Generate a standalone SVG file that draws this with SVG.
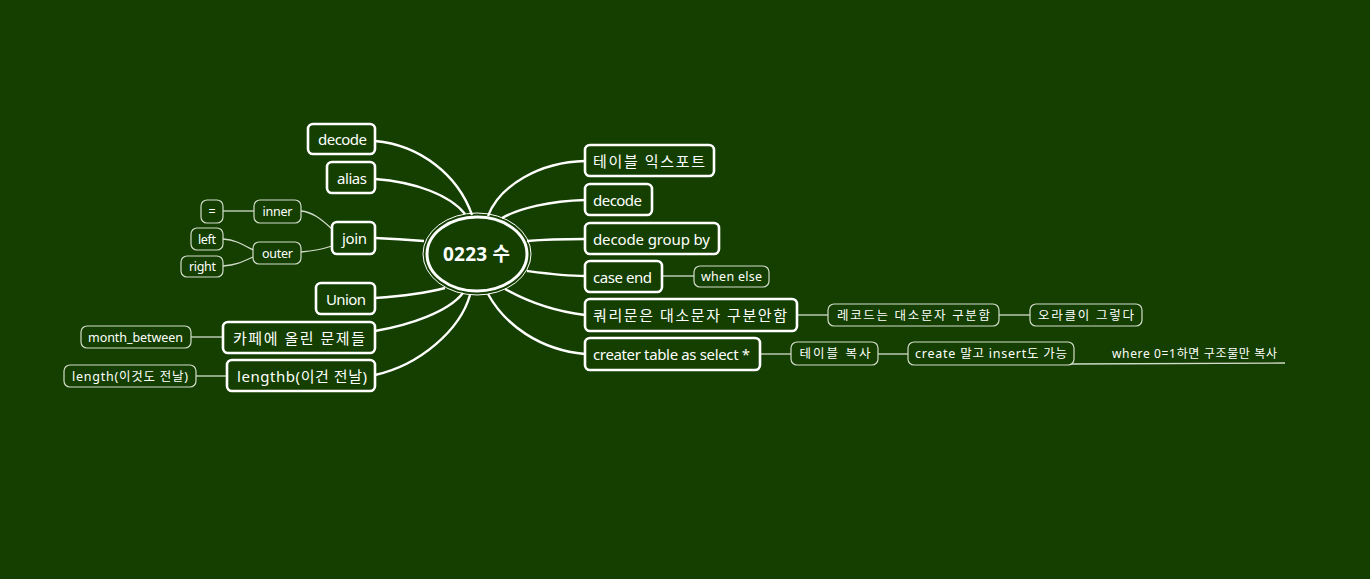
<svg xmlns="http://www.w3.org/2000/svg" width="1370" height="579" viewBox="0 0 1370 579">
<style>
.bg{fill:#143f00}
.main rect{fill:#143f00;stroke:#ffffff;stroke-width:2.6}
.sub rect{fill:#143f00;stroke:#d2dccb;stroke-width:1.2}
text{font-family:"Noto Sans","Noto Sans CJK KR",sans-serif;fill:#ffffff;text-anchor:middle;dominant-baseline:central}
.main text{font-size:15px}
.sub text{font-size:12.5px}
.mc{fill:none;stroke:#ffffff;stroke-width:2.4}
.sc{fill:none;stroke:#d2dccb;stroke-width:1.3}
</style>
<rect class="bg" x="0" y="0" width="1370" height="579"/>
<g id="connectors">
<path class="mc" d="M375 141 C420 145,458 175,472 215"/>
<path class="mc" d="M375 179 C415 182,450 195,465 214"/>
<path class="mc" d="M375 238 C395 239,410 240,424 241"/>
<path class="mc" d="M375 298 C405 296,430 292,445 288"/>
<path class="mc" d="M375 331 C410 325,448 312,463 293"/>
<path class="mc" d="M375 375 C420 365,460 330,470 295"/>
<path class="mc" d="M488 216 C500 185,540 162,585 161"/>
<path class="mc" d="M502 218 C520 208,550 201,585 200"/>
<path class="mc" d="M527 241 C550 239,565 239,585 239"/>
<path class="mc" d="M527 271 C550 274,565 276,585 276"/>
<path class="mc" d="M505 289 C530 303,560 312,585 315"/>
<path class="mc" d="M488 294 C505 325,540 350,585 354"/>
<path class="sc" d="M332 229 C320 218,312 212,301 211"/>
<path class="sc" d="M332 246 C320 250,312 251,301 252"/>
<path class="sc" d="M254 211 L223 211"/>
<path class="sc" d="M253 250 C240 243,235 240,223 239"/>
<path class="sc" d="M253 257 C240 263,235 265,223 266"/>
<path class="sc" d="M223 337 L191 337"/>
<path class="sc" d="M227 376 L196 376"/>
<path class="sc" d="M662 276 L694 276"/>
<path class="sc" d="M797 315 L828 315"/>
<path class="sc" d="M999 315 L1030 315"/>
<path class="sc" d="M760 354 L791 354"/>
<path class="sc" d="M878 354 L908 354"/>
<path class="sc" d="M1070 364 L1285 363"/>
</g>
<g id="center">
<ellipse cx="477" cy="254" rx="54" ry="41" fill="none" stroke="#ffffff" stroke-width="1"/>
<ellipse cx="477" cy="254" rx="50" ry="37" fill="#143f00" stroke="#ffffff" stroke-width="3"/>
<text x="476.5" y="254" style="font-size:19px;font-weight:bold" textLength="67" lengthAdjust="spacing">0223 수</text>
</g>
<g id="n-left-decode" class="main"><rect x="308" y="124" width="67" height="30" rx="5"/><text x="342.5" y="139" textLength="49" lengthAdjust="spacing">decode</text></g>
<g id="n-alias" class="main"><rect x="327" y="162" width="48" height="31" rx="5"/><text x="352" y="177.5" textLength="30" lengthAdjust="spacing">alias</text></g>
<g id="n-join" class="main"><rect x="332" y="222" width="43" height="32" rx="5"/><text x="354.5" y="238" textLength="25" lengthAdjust="spacing">join</text></g>
<g id="n-inner" class="sub"><rect x="254" y="200" width="47" height="23" rx="6"/><text x="277.5" y="211.5" textLength="30" lengthAdjust="spacing">inner</text></g>
<g id="n-eq" class="sub"><rect x="201" y="200" width="22" height="23" rx="6"/><text x="212" y="211.5">=</text></g>
<g id="n-outer" class="sub"><rect x="253" y="242" width="48" height="22" rx="6"/><text x="277.5" y="253" textLength="31" lengthAdjust="spacing">outer</text></g>
<g id="n-left" class="sub"><rect x="191" y="228" width="32" height="22" rx="6"/><text x="207" y="239" textLength="18" lengthAdjust="spacing">left</text></g>
<g id="n-right" class="sub"><rect x="181" y="256" width="42" height="21" rx="6"/><text x="202.5" y="266.5" textLength="27" lengthAdjust="spacing">right</text></g>
<g id="n-union" class="main"><rect x="316" y="283" width="59" height="31" rx="5"/><text x="346" y="298.5" textLength="40" lengthAdjust="spacing">Union</text></g>
<g id="n-cafe" class="main"><rect x="223" y="322" width="152" height="31" rx="5"/><text x="299" y="337.5" textLength="132" lengthAdjust="spacing">카페에 올린 문제들</text></g>
<g id="n-month" class="sub"><rect x="81" y="326" width="110" height="22" rx="6"/><text x="135.5" y="337" textLength="95" lengthAdjust="spacing">month_between</text></g>
<g id="n-lengthb" class="main"><rect x="227" y="360" width="148" height="31" rx="5"/><text x="302" y="375.5" textLength="130" lengthAdjust="spacing">lengthb(이건 전날)</text></g>
<g id="n-length" class="sub"><rect x="64" y="365" width="132" height="22" rx="6"/><text x="130" y="376" textLength="116" lengthAdjust="spacing">length(이것도 전날)</text></g>
<g id="n-export" class="main"><rect x="585" y="145" width="129" height="31" rx="5"/><text x="649" y="160.5" textLength="112" lengthAdjust="spacing">테이블 익스포트</text></g>
<g id="n-right-decode" class="main"><rect x="585" y="184" width="67" height="31" rx="5"/><text x="617.5" y="199.5" textLength="49" lengthAdjust="spacing">decode</text></g>
<g id="n-groupby" class="main"><rect x="585" y="223" width="134" height="31" rx="5"/><text x="651.5" y="238.5" textLength="117" lengthAdjust="spacing">decode group by</text></g>
<g id="n-caseend" class="main"><rect x="585" y="261" width="77" height="31" rx="5"/><text x="622.5" y="276.5" textLength="59" lengthAdjust="spacing">case end</text></g>
<g id="n-whenelse" class="sub"><rect x="694" y="266" width="75" height="21" rx="6"/><text x="731.5" y="276.5" textLength="61" lengthAdjust="spacing">when else</text></g>
<g id="n-query" class="main"><rect x="585" y="299" width="212" height="32" rx="5"/><text x="690" y="315" textLength="194" lengthAdjust="spacing">쿼리문은 대소문자 구분안함</text></g>
<g id="n-record" class="sub"><rect x="828" y="304" width="171" height="22" rx="6"/><text x="913.5" y="315" textLength="153" lengthAdjust="spacing">레코드는 대소문자 구분함</text></g>
<g id="n-oracle" class="sub"><rect x="1030" y="304" width="112" height="22" rx="6"/><text x="1086" y="315" textLength="96" lengthAdjust="spacing">오라클이 그렇다</text></g>
<g id="n-creater" class="main"><rect x="585" y="338" width="175" height="32" rx="5"/><text x="671.5" y="354" textLength="157" lengthAdjust="spacing">creater table as select *</text></g>
<g id="n-copy" class="sub"><rect x="791" y="342" width="87" height="23" rx="6"/><text x="835" y="353.5" textLength="71" lengthAdjust="spacing">테이블 복사</text></g>
<g id="n-create" class="sub"><rect x="908" y="342" width="166" height="23" rx="6"/><text x="991" y="353.5" textLength="152" lengthAdjust="spacing">create 말고 insert도 가능</text></g>
<g id="n-where" class="sub"><text x="1194.5" y="353" style="font-size:12px" textLength="165" lengthAdjust="spacing">where 0=1하면 구조물만 복사</text></g>
</svg>
